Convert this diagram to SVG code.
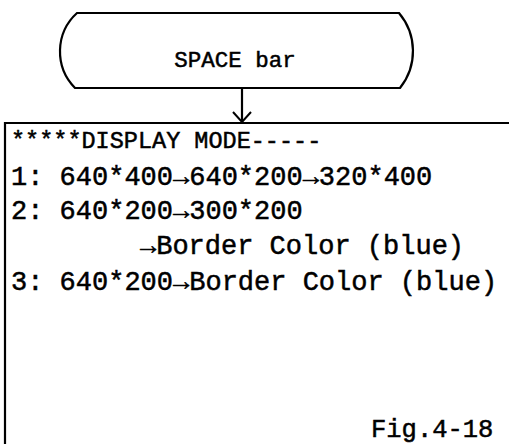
<svg xmlns="http://www.w3.org/2000/svg" width="509" height="444" viewBox="0 0 509 444">
<style>
.ln{fill:none;stroke:#000;stroke-width:2.2}
.t{font-family:"Liberation Mono","Courier New",monospace;fill:#000;stroke:#000;stroke-width:0.5}
</style>
<defs>
<marker id="ah" markerUnits="userSpaceOnUse" markerWidth="24" markerHeight="24" refX="12" refY="12" orient="auto">
<path d="M2,3 L12,12 L2,21" fill="none" stroke="#000" stroke-width="2"/>
</marker>
</defs>
<rect width="509" height="444" fill="#fff"/>
<g id="start">
<path class="ln" d="M77,13 H399 A59,59 0 0 1 400,88 H75 A52,52 0 0 1 77,13 Z"/>
<text class="t" x="235" y="67" font-size="22.5" text-anchor="middle">SPACE bar</text>
</g>
<g id="connectors">
<line class="ln" x1="242" y1="88" x2="242" y2="122" marker-end="url(#ah)"/>
</g>
<g id="display">
<path class="ln" d="M509,123 H5 V444"/>
<text class="t" x="11" y="148" font-size="23.5">*****DISPLAY MODE-----</text>
<text class="t" x="11" y="185" font-size="27">1: 640*400→640*200→320*400</text>
<text class="t" x="11" y="219" font-size="27">2: 640*200→300*200</text>
<text class="t" x="140" y="254" font-size="27">→Border Color (blue)</text>
<text class="t" x="11" y="290" font-size="27">3: 640*200→Border Color (blue)</text>
</g>
<text class="t" x="371" y="437" font-size="25.5">Fig.4-18</text>
</svg>
